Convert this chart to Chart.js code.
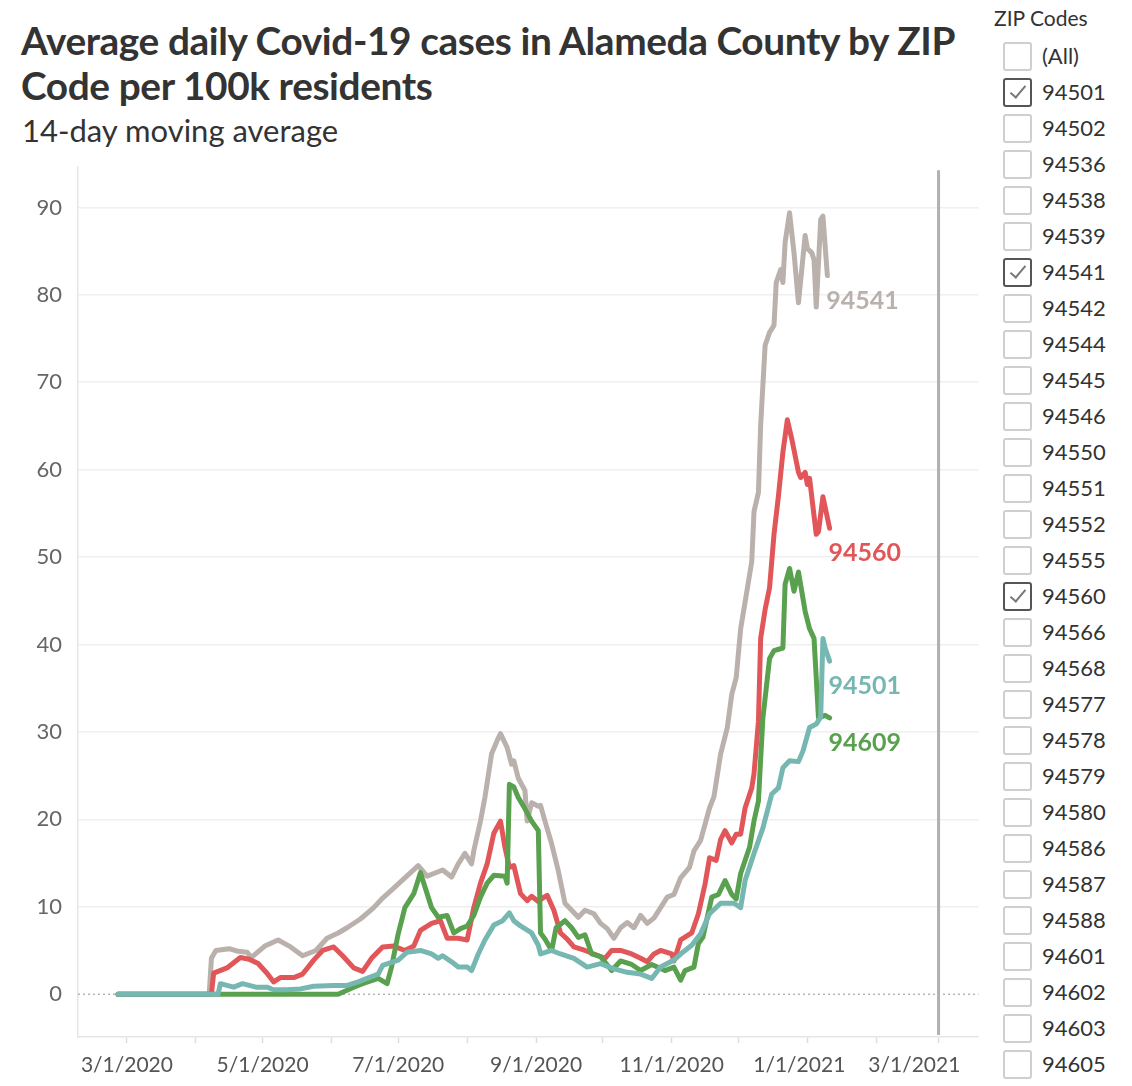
<!DOCTYPE html>
<html>
<head>
<meta charset="utf-8">
<script src="https://cdn.jsdelivr.net/npm/chart.js@4.4.1/dist/chart.umd.min.js"></script>
<style>
  body { margin: 0; background: #fff; width: 1132px; height: 1086px; overflow: hidden; position: relative; font-family: Lato, "Open Sans", sans-serif; color: #333; }
  #title { position: absolute; left: 21px; top: 18px; font-weight: 700; font-size: 38.8px; line-height: 45px; letter-spacing: -0.4px; color: #333; width: 980px; }
  #subtitle { position: absolute; left: 22px; top: 111px; font-size: 31px; color: #333; }
  #chartBox { position: absolute; left: 0; top: 138px; width: 1019px; height: 948px; }
  #zipPanel { position: absolute; left: 994px; top: 0; width: 138px; height: 1086px; overflow: hidden; background: #fff; }
  #zipPanel .head { font-size: 21px; line-height: 36px; height: 38px; color: #333; }
  .row { position: relative; height: 36px; line-height: 36px; font-size: 22px; color: #333; }
  .box { position: absolute; left: 9px; top: 4px; width: 25px; height: 25px; border: 2px solid #cfcfcf; border-radius: 3px; box-sizing: content-box; }
  .box.on { border-color: #555; }
  .box.on::after { content: ""; position: absolute; left: 9px; top: 2px; width: 6px; height: 14px; border-right: 2px solid #777; border-bottom: 2px solid #777; transform: rotate(40deg); }
  .row span { position: absolute; left: 48px; }
</style>
</head>
<body>
<div id="title">Average daily Covid-19 cases in Alameda County by ZIP Code per 100k residents</div>
<div id="subtitle">14-day moving average</div>
<div id="chartBox"><canvas id="covidChart"></canvas></div>
<div id="zipPanel"><div class="head">ZIP Codes</div></div>

<script>
// days are counted from 3/1/2020
const zipList = ["(All)", "94501", "94502", "94536", "94538", "94539", "94541", "94542", "94544", "94545",
  "94546", "94550", "94551", "94552", "94555", "94560", "94566", "94568", "94577", "94578",
  "94579", "94580", "94586", "94587", "94588", "94601", "94602", "94603", "94605", "94606"];
const zipChecked = ["94501", "94541", "94560"];

const seriesNames = ["94501", "94609", "94560", "94541"];
const seriesColors = ["#76b7b2", "#59a14f", "#e15759", "#bab0ac"];

const days94501 = [-4,41,42,48,52,58,63,66,72,78,84,93,99,104,108,113,115,122,126,132,137,140,142,146,149,153,155,158,161,165,169,172,174,177,182,185,186,191,195,201,207,213,219,225,231,236,240,246,250,254,258,262,267,273,276,278,282,286,290,293,295,298,302,304,307,310,312,313,314,316];
const cases94501 = [0,0,1.2,0.8,1.2,0.8,0.8,0.5,0.5,0.6,0.9,1.0,1.0,1.4,1.8,2.3,3.3,3.9,4.8,5.0,4.6,4.1,4.4,3.7,3.1,3.1,2.7,4.6,6.2,7.9,8.4,9.3,8.4,7.8,7.0,5.6,4.6,5.0,4.6,4.1,3.1,3.5,2.9,2.5,2.3,1.8,3.1,3.9,4.8,5.6,6.9,9.2,10.4,10.4,9.9,13.0,16.1,19.0,22.9,23.6,25.9,26.7,26.6,27.8,30.5,30.9,31.7,40.7,39.6,38.1];

const days94609 = [-4,95,102,106,113,117,119,122,125,129,132,137,140,144,147,150,153,156,159,162,165,170,171,172,174,176,179,182,185,186,188,191,193,197,200,203,206,209,213,218,222,227,231,236,242,246,249,251,255,257,259,263,266,269,272,274,276,280,282,284,286,289,291,295,296,298,300,302,305,307,309,311,314,316];
const cases94609 = [0,0,0.8,1.2,1.8,1.2,3.1,6.9,9.9,11.5,13.9,9.9,8.8,9.0,7.0,7.5,7.8,9.0,11.1,12.7,13.6,13.5,12.7,24.0,23.7,22.5,21.2,19.8,18.7,7.0,6.3,5.0,7.6,8.4,7.6,6.5,6.8,4.6,4.3,2.7,3.8,3.4,2.7,3.4,2.7,3.1,1.6,2.7,3.1,5.8,6.5,11.1,11.4,13.0,11.4,10.9,13.8,16.8,19.8,22.1,31.6,38.4,39.3,39.6,46.9,48.7,46.1,48.3,43.8,41.8,40.7,31.6,31.9,31.6];

const days94560 = [-4,38,39,45,51,55,59,63,66,69,75,79,84,88,93,97,102,106,110,115,120,125,129,132,137,141,144,149,153,156,159,162,165,168,170,172,174,177,180,182,185,187,189,192,195,198,201,206,210,215,218,222,227,231,234,237,240,245,246,249,254,257,260,262,265,267,269,272,274,276,278,281,282,284,285,287,289,291,293,295,297,299,302,303,305,306,307,310,311,313,316];
const cases94560 = [0,0,2.4,3.0,4.2,4.0,3.5,2.4,1.4,1.9,1.9,2.3,3.9,5.0,5.4,4.4,3.0,2.6,4.1,5.4,5.5,5.0,5.5,7.3,8.1,8.4,6.4,6.4,6.2,9.9,12.7,14.9,18.4,19.8,16.8,14.5,14.7,11.5,10.7,11.2,10.6,11.0,11.3,9.6,7.0,6.3,5.4,5.0,4.6,4.1,5.0,5.0,4.6,4.1,3.7,4.6,5.0,4.6,3.8,6.2,7.0,9.2,12.6,15.6,15.3,17.7,18.7,17.3,18.3,18.3,21.3,23.6,25.2,31.2,40.7,44.0,46.5,52.6,57.0,62.0,65.7,63.5,59.7,59.1,59.7,58.3,59.0,52.6,52.9,56.9,53.3];

const days94541 = [-4,37,38,40,46,50,54,56,62,68,73,79,85,90,95,99,105,111,115,119,125,131,135,138,142,146,149,152,155,156,159,161,164,167,168,171,173,174,176,179,180,182,185,186,188,191,194,197,200,203,206,210,213,216,219,222,225,228,231,234,237,240,243,246,249,253,255,258,262,264,267,270,272,274,276,279,281,282,284,285,287,289,291,292,294,295,296,298,300,302,305,306,308,309,310,312,313,315];
const cases94541 = [0,0,4.1,5.0,5.2,4.9,4.8,4.2,5.5,6.2,5.5,4.4,5.0,6.4,7.0,7.6,8.6,9.9,11.0,11.9,13.3,14.7,13.5,13.8,14.2,13.4,14.9,16.1,14.9,16.4,19.8,22.5,27.5,29.3,29.8,28.2,26.3,26.7,24.7,23.3,19.8,21.9,21.5,21.6,19.8,17.2,14.1,10.4,9.6,8.8,9.6,9.2,8.1,7.5,6.4,7.6,8.2,7.6,9.0,8.1,8.7,9.9,11.1,11.4,13.3,14.5,16.4,17.6,21.3,22.6,27.5,30.5,34.3,36.2,41.8,46.4,49.5,55.2,57.4,65.1,74.2,75.7,76.5,81.4,82.9,81.4,86.0,89.4,84.8,79.1,86.8,85.3,84.8,84.0,78.6,88.6,89.0,82.2];

// month ticks (day offsets from 3/1/2020), every other one labelled
// trailing spaces nudge the last two labels left like the original
const monthTickDays = [0, 31, 61, 92, 122, 153, 184, 214, 245, 275, 306, 337, 365];
const monthTickLabels = ["3/1/2020", "", "5/1/2020", "", "7/1/2020", "", "9/1/2020", "", "11/1/2020", "", "1/1/2021   ", "", "3/1/2021         "];
const yTickValues = [0, 10, 20, 30, 40, 50, 60, 70, 80, 90];
const refLineDay = 365;

// right hand filter list
const panel = document.getElementById("zipPanel");
zipList.forEach((zip) => {
  const row = document.createElement("div");
  row.className = "row";
  const box = document.createElement("div");
  box.className = zipChecked.includes(zip) ? "box on" : "box";
  const label = document.createElement("span");
  label.textContent = zip;
  row.appendChild(box);
  row.appendChild(label);
  panel.appendChild(row);
});

function toPoints(days, values) {
  return days.map((d, i) => ({ x: d, y: values[i] }));
}

const seriesData = [
  toPoints(days94501, cases94501),
  toPoints(days94609, cases94609),
  toPoints(days94560, cases94560),
  toPoints(days94541, cases94541),
];

const datasets = seriesNames.map((name, i) => ({
  label: name,
  data: seriesData[i],
  borderColor: seriesColors[i],
  backgroundColor: seriesColors[i],
  borderWidth: 5,
  pointRadius: 0,
  tension: 0,
  borderJoinStyle: "round",
  borderCapStyle: "round",
}));

// dotted zero line + grey reference line at 3/1/2021
const refLinesPlugin = {
  id: "refLines",
  beforeDatasetsDraw(chart) {
    const { ctx, chartArea, scales } = chart;
    const y0 = scales.y.getPixelForValue(0);
    ctx.save();
    ctx.strokeStyle = "#b5b5b5";
    ctx.lineWidth = 1.5;
    ctx.setLineDash([2, 3]);
    ctx.beginPath();
    ctx.moveTo(chartArea.left, y0);
    ctx.lineTo(chartArea.right, y0);
    ctx.stroke();
    ctx.setLineDash([]);
    const xr = scales.x.getPixelForValue(refLineDay);
    ctx.strokeStyle = "#b0b0b0";
    ctx.lineWidth = 3;
    ctx.beginPath();
    ctx.moveTo(xr, chartArea.top + 3);
    ctx.lineTo(xr, chartArea.bottom - 2);
    ctx.stroke();
    ctx.restore();
  },
};

// ZIP labels next to the end of each line
const endLabelsPlugin = {
  id: "endLabels",
  afterDatasetsDraw(chart) {
    const { ctx } = chart;
    ctx.save();
    ctx.font = "bold 25px Lato, sans-serif";
    ctx.textBaseline = "middle";
    ctx.textAlign = "left";
    chart.data.datasets.forEach((ds, i) => {
      const meta = chart.getDatasetMeta(i);
      const last = meta.data[meta.data.length - 1];
      ctx.fillStyle = ds.borderColor;
      ctx.fillText(ds.label, last.x - 1, last.y + 25);
    });
    ctx.restore();
  },
};

const ctx = document.getElementById("covidChart").getContext("2d");
new Chart(ctx, {
  type: "line",
  data: { datasets: datasets },
  options: {
    responsive: true,
    maintainAspectRatio: false,
    animation: false,
    layout: { padding: { top: 0, right: 5, left: 0, bottom: 0 } },
    plugins: { legend: { display: false }, tooltip: { enabled: false } },
    scales: {
      x: {
        type: "linear",
        min: -22,
        max: 383,
        afterFit: (scale) => { scale.height = 49; },
        afterBuildTicks: (scale) => { scale.ticks = monthTickDays.map((v) => ({ value: v })); },
        grid: { drawOnChartArea: false, drawTicks: true, tickLength: 6, tickColor: "#dcdcdc", tickWidth: 1.5 },
        border: { display: true, color: "#e6e6e6", width: 1.5 },
        ticks: {
          autoSkip: false,
          maxRotation: 0,
          padding: 10,
          color: "#555",
          font: { family: "Lato", size: 21 },
          callback: (value, index) => monthTickLabels[index],
        },
      },
      y: {
        type: "linear",
        min: -4.9,
        max: 94.6,
        afterFit: (scale) => { scale.width = 78; },
        afterBuildTicks: (scale) => { scale.ticks = yTickValues.map((v) => ({ value: v })); },
        grid: {
          drawTicks: false,
          lineWidth: 1.5,
          color: (c) => (c.tick && c.tick.value === 0 ? "rgba(0,0,0,0)" : "#efefef"),
        },
        border: { display: true, color: "#e6e6e6", width: 1.5 },
        ticks: {
          padding: 16,
          color: "#666",
          font: { family: "Lato", size: 22 },
        },
      },
    },
  },
  plugins: [refLinesPlugin, endLabelsPlugin],
});
</script>
</body>
</html>
